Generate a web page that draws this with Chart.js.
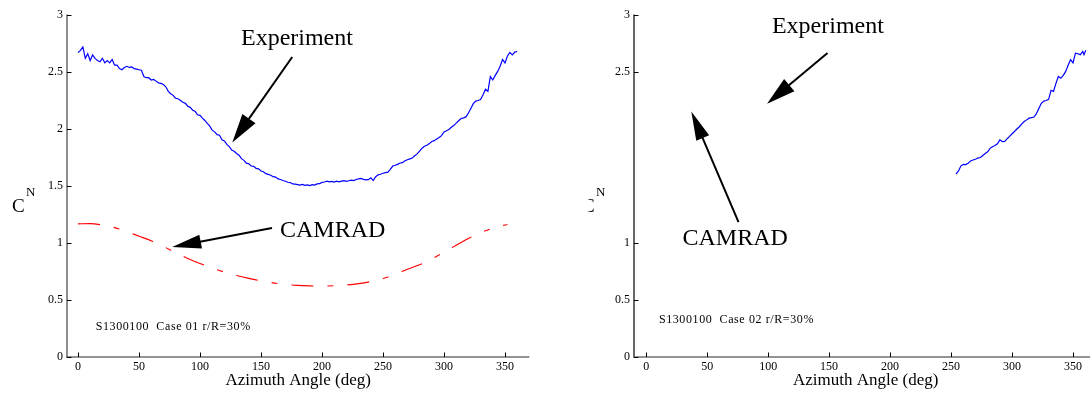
<!DOCTYPE html>
<html><head><meta charset="utf-8">
<script src="https://cdn.jsdelivr.net/npm/chart.js@4"></script>
<style>
html,body{margin:0;padding:0;background:#fff;overflow:hidden;width:1090px;height:393px;position:relative;}
#l{position:absolute;left:0;top:0;width:545px;height:393px;}
#r{position:absolute;left:545px;top:0;width:560px;height:393px;}
</style></head><body>
<div id="l"><canvas id="c1" width="545" height="393"></canvas></div>
<div id="r"><canvas id="c2" width="560" height="393"></canvas></div>
<script>
// ---------- data ----------
const expDegL = [0,2,4,6,8,10,12,14,16,18,20,22,24,26,28,30,32,34,36,38,40,42,44,46,48,50,52,54,56,58,60,62,64,66,68,70,72,74,76,78,80,82,84,86,88,90,92,94,96,98,100,102,104,106,108,110,112,114,116,118,120,122,124,126,128,130,132,134,136,138,140,142,144,146,148,150,152,154,156,158,160,162,164,166,168,170,172,174,176,178,180,182,184,186,188,190,192,194,196,198,200,202,204,206,208,210,212,214,216,218,220,222,224,226,228,230,232,234,236,238,240,242,244,246,248,250,252,254,256,258,260,262,264,266,268,270,272,274,276,278,280,282,284,286,288,290,292,294,296,298,300,302,304,306,308,310,312,314,316,318,320,322,324,326,328,330,332,334,336,338,340,342,344,346,348,350,352,354,356,358,360];
const expValL = [2.67,2.69,2.72,2.62,2.66,2.60,2.65,2.62,2.60,2.59,2.62,2.58,2.60,2.58,2.61,2.56,2.56,2.53,2.52,2.54,2.55,2.54,2.545,2.53,2.525,2.52,2.515,2.46,2.45,2.45,2.43,2.435,2.42,2.405,2.40,2.39,2.37,2.33,2.31,2.295,2.27,2.265,2.25,2.235,2.225,2.20,2.19,2.165,2.155,2.125,2.12,2.095,2.075,2.05,2.025,1.99,1.975,1.95,1.945,1.905,1.895,1.865,1.845,1.815,1.805,1.785,1.77,1.74,1.725,1.70,1.695,1.675,1.672,1.655,1.65,1.632,1.625,1.608,1.602,1.594,1.582,1.578,1.562,1.557,1.548,1.542,1.533,1.53,1.518,1.516,1.512,1.508,1.514,1.506,1.51,1.503,1.512,1.508,1.518,1.52,1.532,1.535,1.542,1.536,1.541,1.534,1.542,1.537,1.543,1.547,1.54,1.546,1.552,1.548,1.557,1.562,1.566,1.558,1.553,1.556,1.572,1.548,1.582,1.598,1.603,1.612,1.618,1.622,1.645,1.675,1.682,1.69,1.702,1.705,1.722,1.73,1.738,1.745,1.765,1.782,1.805,1.832,1.848,1.858,1.872,1.89,1.898,1.912,1.926,1.942,1.975,1.985,1.996,2.015,2.03,2.052,2.072,2.092,2.098,2.106,2.14,2.18,2.222,2.245,2.25,2.258,2.30,2.348,2.33,2.46,2.43,2.47,2.505,2.55,2.61,2.58,2.64,2.672,2.65,2.675,2.68];

const camDeg = [0,10,20,30,40,50,60,70,80,90,100,110,120,130,140,150,160,170,180,190,200,210,220,230,240,250,260,270,280,290,300,310,320,330,340,350,352];
const camVal = [1.168,1.170,1.158,1.135,1.10,1.06,1.02,0.97,0.915,0.865,0.82,0.78,0.745,0.715,0.69,0.668,0.65,0.637,0.628,0.624,0.623,0.625,0.632,0.644,0.662,0.688,0.725,0.77,0.81,0.86,0.92,0.98,1.04,1.09,1.13,1.158,1.162];

const expDegR = [254,256,258,260,262,264,266,268,270,272,274,276,278,280,282,284,286,288,290,292,294,296,298,300,302,304,306,308,310,312,314,316,318,320,322,324,326,328,330,332,334,336,338,340,342,344,346,348,350,352,354,356,358,359,360.5];
const expValR = [1.605,1.63,1.675,1.69,1.688,1.70,1.72,1.728,1.735,1.745,1.75,1.768,1.785,1.80,1.83,1.845,1.855,1.87,1.905,1.89,1.892,1.915,1.935,1.958,1.978,2.0,2.02,2.045,2.065,2.08,2.095,2.10,2.105,2.135,2.18,2.225,2.245,2.25,2.26,2.34,2.33,2.40,2.46,2.445,2.47,2.505,2.56,2.608,2.58,2.665,2.66,2.652,2.68,2.652,2.69];

const xTicks = [0,50,100,150,200,250,300,350];
const yTicksL = [0,0.5,1,1.5,2,2.5,3];
const yTicksR = [0,0.5,1,2.5,3];

const txtExp = 'Experiment';
const txtCam = 'CAMRAD';
const capL = 'S1300100  Case 01 r/R=30%';
const capR = 'S1300100  Case 02 r/R=30%';
const xTitle = 'Azimuth Angle (deg)';
const yMain = 'C';
const ySup = 'N';

// ---------- drawing ----------
Chart.defaults.font.family = 'Liberation Serif';
Chart.defaults.color = '#000';

function pts(xs, ys){ return xs.map((x,i)=>({x:x, y:ys[i]})); }

function arrow(ctx, x1,y1,x2,y2, hl, hw){
  const a = Math.atan2(y2-y1, x2-x1);
  const bx = x2 - hl*Math.cos(a), by = y2 - hl*Math.sin(a);
  ctx.beginPath(); ctx.moveTo(x1,y1); ctx.lineTo(bx+2*Math.cos(a),by+2*Math.sin(a));
  ctx.lineWidth = 2; ctx.strokeStyle = '#000'; ctx.stroke();
  ctx.beginPath(); ctx.moveTo(x2,y2);
  ctx.lineTo(bx + hw/2*Math.sin(a), by - hw/2*Math.cos(a));
  ctx.lineTo(bx - hw/2*Math.sin(a), by + hw/2*Math.cos(a));
  ctx.closePath(); ctx.fillStyle = '#000'; ctx.fill();
}

const deco = {
  id: 'deco',
  afterDraw(chart, args, o){
    const {ctx, chartArea: ca, scales: {x, y}} = chart;
    ctx.save();
    // axis lines
    ctx.strokeStyle = o.yAxisColor; ctx.lineWidth = o.yAxisWidth;
    ctx.beginPath(); ctx.moveTo(ca.left, ca.top - 0.5); ctx.lineTo(ca.left, ca.bottom + 0.5); ctx.stroke();
    ctx.strokeStyle = '#707070'; ctx.lineWidth = 1.6;
    ctx.beginPath(); ctx.moveTo(ca.left - 1, ca.bottom); ctx.lineTo(ca.right, ca.bottom); ctx.stroke();
    // inward tick marks
    ctx.strokeStyle = '#000'; ctx.lineWidth = 1;
    y.ticks.forEach(t => { const py = Math.round(y.getPixelForValue(t.value)) + 0.5;
      ctx.beginPath(); ctx.moveTo(ca.left, py); ctx.lineTo(ca.left + 4.5, py); ctx.stroke(); });
    x.ticks.forEach(t => { const px = Math.round(x.getPixelForValue(t.value)) + 0.5;
      ctx.beginPath(); ctx.moveTo(px, ca.bottom); ctx.lineTo(px, ca.bottom - 4.5); ctx.stroke(); });
    // y label C^N
    ctx.save();
    if (o.yClip !== undefined) { ctx.beginPath(); ctx.rect(ca.left + o.yClip, 0, 200, 393); ctx.clip(); }
    ctx.fillStyle = '#000'; ctx.textBaseline = 'middle'; ctx.textAlign = 'left';
    ctx.font = '19px "Liberation Serif"';
    ctx.fillText(yMain, ca.left + o.yLab[0], o.yLab[1]);
    ctx.restore();
    ctx.fillStyle = '#000'; ctx.textBaseline = 'middle'; ctx.textAlign = 'left';
    ctx.font = '13px "Liberation Serif"';
    ctx.fillText(ySup, ca.left + o.yLab[2], o.yLab[3]);
    // annotations (data coordinates)
    const P = (d, v) => [x.getPixelForValue(d), y.getPixelForValue(v)];
    ctx.font = '24px "Liberation Serif"';
    o.texts.forEach(t => { const [px, py] = P(t.at[0], t.at[1]); ctx.fillText(t.s, px, py); });
    o.arrows.forEach(a => { const [x1, y1] = P(a.from[0], a.from[1]); const [x2, y2] = P(a.to[0], a.to[1]); arrow(ctx, x1, y1, x2, y2, a.hl, a.hw); });
    ctx.font = '12px "Liberation Serif"';
    ctx.letterSpacing = '0.6px';
    const [cx, cy] = P(o.cap.at[0], o.cap.at[1]);
    ctx.fillText(o.cap.s, cx, cy);
    ctx.letterSpacing = '0px';
    ctx.restore();
  }
};

function makeOpts(xmin, xmax, yTicks, yWidth, padRight, decoOpts){
  return {
    responsive: false, animation: false, events: [],
    layout: { padding: { top: 15, right: padRight, left: 0, bottom: 0 } },
    plugins: { legend: { display: false }, tooltip: { enabled: false }, deco: decoOpts },
    scales: {
      x: { type: 'linear', min: xmin, max: xmax,
        grid: { display: false, drawTicks: false, tickLength: 0 }, border: { display: false },
        afterBuildTicks: s => { s.ticks = xTicks.map(v => ({ value: v })); },
        afterFit: s => { s.height = 36; },
        ticks: { autoSkip: false, maxRotation: 0, padding: 3, font: { size: 12, family: 'Liberation Serif' },
                 callback: v => String(v) },
        title: { display: true, text: xTitle, font: { size: 17, family: 'Liberation Serif' }, padding: { top: 0, bottom: 2 } } },
      y: { type: 'linear', min: 0, max: 3,
        grid: { display: false, drawTicks: false, tickLength: 0 }, border: { display: false },
        afterBuildTicks: s => { s.ticks = yTicks.map(v => ({ value: v })); },
        afterFit: s => { s.width = yWidth; },
        ticks: { padding: 4, font: { size: 12, family: 'Liberation Serif' }, callback: v => String(v) } }
    }
  };
}

new Chart(document.getElementById('c1'), {
  type: 'scatter',
  data: { datasets: [
    { data: pts(expDegL, expValL), showLine: true, borderColor: '#0000ff', borderWidth: 1.2, pointRadius: 0, fill: false },
    { data: pts(camDeg, camVal), showLine: true, borderColor: '#ff0000', borderWidth: 1.1, borderDash: [22, 14, 6, 14], pointRadius: 0, cubicInterpolationMode: 'monotone', fill: false }
  ] },
  options: makeOpts(-9, 370, yTicksL, 67, 15.6, {
    yAxisColor: '#808080', yAxisWidth: 1.8,
    yLab: [-55, 207, -41, 193],
    texts: [ { s: txtExp, at: [133.6, 2.79] }, { s: txtCam, at: [165.6, 1.111] } ],
    arrows: [ { from: [175.6, 2.632], to: [126.5, 1.882], hl: 29, hw: 16 },
              { from: [159, 1.132], to: [77.2, 0.965], hl: 29, hw: 14 } ],
    cap: { s: capL, at: [14.5, 0.263] }
  }),
  plugins: [deco]
});

new Chart(document.getElementById('c2'), {
  type: 'scatter',
  data: { datasets: [
    { data: pts(expDegR, expValR), showLine: true, borderColor: '#0000ff', borderWidth: 1.2, pointRadius: 0, fill: false }
  ] },
  options: makeOpts(-10, 370, yTicksR, 89, 7.6, {
    yAxisColor: '#000', yAxisWidth: 1.2,
    yLab: [-52, 207, -38, 193], yClip: -45.5,
    texts: [ { s: txtExp, at: [103.1, 2.895] }, { s: txtCam, at: [29.8, 1.035] } ],
    arrows: [ { from: [148.7, 2.667], to: [99.1, 2.222], hl: 29, hw: 16 },
              { from: [75.7, 1.184], to: [37, 2.154], hl: 29, hw: 14 } ],
    cap: { s: capR, at: [10.4, 0.327] }
  }),
  plugins: [deco]
});
</script>
</body></html>
